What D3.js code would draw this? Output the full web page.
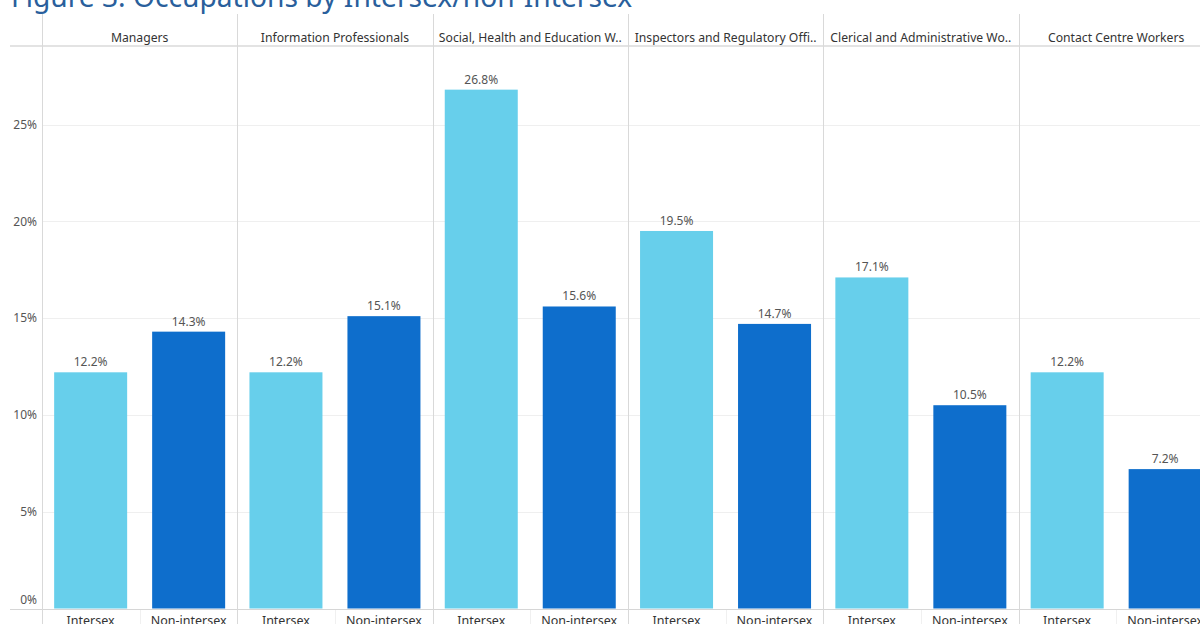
<!DOCTYPE html>
<html>
<head>
<meta charset="utf-8">
<script src="https://cdn.jsdelivr.net/npm/d3@7"></script>
<style>
  html, body { margin: 0; padding: 0; background: #fff; overflow: hidden; }
  svg { display: block; }
</style>
</head>
<body>
<svg id="chart" width="1200" height="624"></svg>
<script>
// Occupation panels (header labels as shown, truncated where the column is narrow)
const categories = [
  "Managers",
  "Information Professionals",
  "Social, Health and Education W..",
  "Inspectors and Regulatory Offi..",
  "Clerical and Administrative Wo..",
  "Contact Centre Workers"
];
const groups = ["Intersex", "Non-intersex"];
// Share of each group working in the occupation (%)
const intersexValues    = [12.2, 12.2, 26.8, 19.5, 17.1, 12.2];
const nonIntersexValues = [14.3, 15.1, 15.6, 14.7, 10.5, 7.2];
const yTicks = [0, 5, 10, 15, 20, 25];

const titleText = "Figure 3: Occupations by Intersex/non-Intersex";

const W = 1200, H = 624;
const margin = { left: 42 };
const plotBottom = 608.5;

const svg = d3.select("#chart");
const font = "'Noto Sans', 'Open Sans', sans-serif";

const rows = categories.map((c, i) => ({
  category: c,
  values: [
    { group: groups[0], value: intersexValues[i] },
    { group: groups[1], value: nonIntersexValues[i] }
  ]
}));

// Panel (facet) scale across the width
const panelW = 195.3;
const x0 = d3.scaleBand()
  .domain(categories)
  .range([margin.left, margin.left + panelW * categories.length])
  .paddingInner(0).paddingOuter(0);

// Bar scale within a panel
const x1 = d3.scaleBand()
  .domain(groups)
  .range([0, x0.bandwidth()])
  .paddingInner(0.255)
  .paddingOuter(0.124);

const y = d3.scaleLinear()
  .domain([0, 5])
  .range([plotBottom, plotBottom - 96.8]);

const color = d3.scaleOrdinal()
  .domain(groups)
  .range(["#67cfeb", "#0e6ecc"]);

// Title
svg.append("text")
  .attr("x", 11)
  .attr("y", 6.5)
  .attr("font-family", font)
  .attr("font-size", 28.2)
  .attr("fill", "#2a5f9c")
  .text(titleText);

// Horizontal gridlines
svg.append("g")
  .selectAll("line")
  .data(yTicks.filter(d => d > 0))
  .join("line")
  .attr("x1", margin.left)
  .attr("x2", W)
  .attr("y1", d => Math.round(y(d)) + 0.5)
  .attr("y2", d => Math.round(y(d)) + 0.5)
  .attr("stroke", "#efefef")
  .attr("stroke-width", 1);

// Header divider
svg.append("line")
  .attr("x1", 10).attr("x2", W)
  .attr("y1", 46).attr("y2", 46)
  .attr("stroke", "#e3e3e3")
  .attr("stroke-width", 2);

// Bottom axis line
svg.append("line")
  .attr("x1", 10).attr("x2", W)
  .attr("y1", 609.5).attr("y2", 609.5)
  .attr("stroke", "#d6d6d6")
  .attr("stroke-width", 1);

// Panel separators
svg.append("g")
  .selectAll("line")
  .data(categories)
  .join("line")
  .attr("x1", d => Math.round(x0(d)) + 0.5)
  .attr("x2", d => Math.round(x0(d)) + 0.5)
  .attr("y1", 14)
  .attr("y2", H)
  .attr("stroke", "#d9d9d9")
  .attr("stroke-width", 1);

// Faint dividers between bar labels at the bottom
svg.append("g")
  .selectAll("line")
  .data(categories)
  .join("line")
  .attr("x1", d => Math.round(x0(d) + x0.bandwidth() / 2) + 0.5)
  .attr("x2", d => Math.round(x0(d) + x0.bandwidth() / 2) + 0.5)
  .attr("y1", 610)
  .attr("y2", H)
  .attr("stroke", "#f0f0f0")
  .attr("stroke-width", 1);

// Y axis labels
const yAxis = d3.axisLeft(y)
  .tickValues(yTicks)
  .tickFormat(d => d + "%")
  .tickSize(0)
  .tickPadding(5);

const yg = svg.append("g")
  .attr("transform", `translate(${margin.left},0)`)
  .call(yAxis);
yg.select(".domain").remove();
yg.selectAll("text")
  .attr("font-family", font)
  .attr("font-size", 12)
  .attr("fill", "#555")
  .attr("dy", d => d === 0 ? "-0.4em" : "0.32em");

// Panel header labels
svg.append("g")
  .selectAll("text")
  .data(categories)
  .join("text")
  .attr("x", d => x0(d) + x0.bandwidth() / 2)
  .attr("y", 42)
  .attr("text-anchor", "middle")
  .attr("font-family", font)
  .attr("font-size", 12.2)
  .attr("fill", "#333")
  .text(d => d);

// Bars and labels per panel
const panel = svg.append("g")
  .selectAll("g")
  .data(rows)
  .join("g")
  .attr("transform", d => `translate(${x0(d.category)},0)`);

panel.selectAll("rect")
  .data(d => d.values)
  .join("rect")
  .attr("x", d => x1(d.group))
  .attr("width", x1.bandwidth())
  .attr("y", d => y(d.value))
  .attr("height", d => y(0) - y(d.value))
  .attr("fill", d => color(d.group));

panel.selectAll("text.value")
  .data(d => d.values)
  .join("text")
  .attr("class", "value")
  .attr("x", d => x1(d.group) + x1.bandwidth() / 2)
  .attr("y", d => y(d.value) - 6)
  .attr("text-anchor", "middle")
  .attr("font-family", font)
  .attr("font-size", 12)
  .attr("fill", "#555")
  .text(d => d.value.toFixed(1) + "%");

panel.selectAll("text.group")
  .data(d => d.values)
  .join("text")
  .attr("class", "group")
  .attr("x", d => x1(d.group) + x1.bandwidth() / 2)
  .attr("y", 625)
  .attr("text-anchor", "middle")
  .attr("font-family", font)
  .attr("font-size", 12.5)
  .attr("fill", "#333")
  .text(d => d.group);
</script>
</body>
</html>
